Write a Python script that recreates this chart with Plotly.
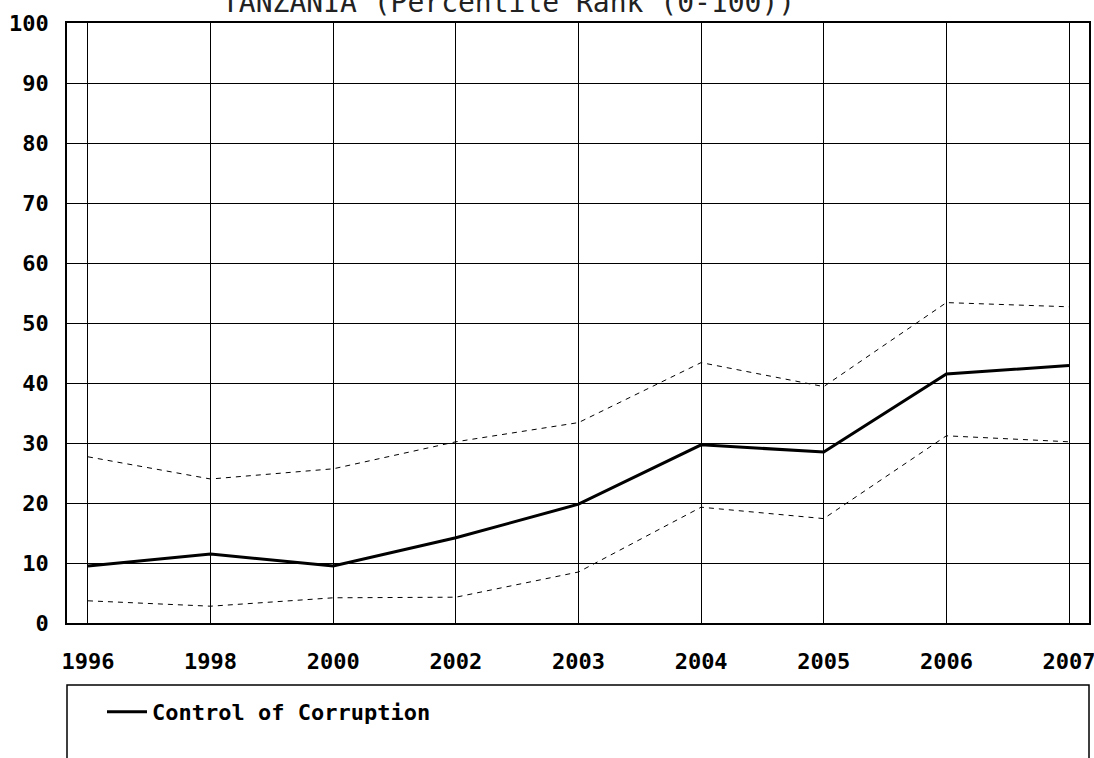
import plotly.graph_objects as go

years = ["1996", "1998", "2000", "2002", "2003", "2004", "2005", "2006", "2007"]
control_of_corruption = [9.5, 11.5, 9.5, 14.2, 19.8, 29.7, 28.5, 41.5, 42.9]
upper_bound = [27.7, 24.0, 25.7, 30.2, 33.4, 43.4, 39.4, 53.4, 52.7]
lower_bound = [3.7, 2.8, 4.2, 4.3, 8.5, 19.3, 17.4, 31.2, 30.2]
y_ticks = [0, 10, 20, 30, 40, 50, 60, 70, 80, 90, 100]
title_text = "TANZANIA (Percentile Rank (0-100))"

FONT = "DejaVu Sans Mono"

fig = go.Figure()
fig.add_trace(go.Scatter(x=years, y=upper_bound, mode="lines", showlegend=False,
                         line=dict(color="black", width=1, dash="5px,5px")))
fig.add_trace(go.Scatter(x=years, y=lower_bound, mode="lines", showlegend=False,
                         line=dict(color="black", width=1, dash="5px,5px")))
fig.add_trace(go.Scatter(x=years, y=control_of_corruption, mode="lines",
                         name="Control of Corruption",
                         line=dict(color="black", width=3)))

fig.update_layout(
    width=1094, height=758,
    margin=dict(l=67, r=5, t=23, b=135, autoexpand=False),
    paper_bgcolor="white", plot_bgcolor="white",
    font=dict(family=FONT, size=22, color="black"),
    xaxis=dict(type="category", categoryorder="array", categoryarray=years,
               range=[-0.171, 8.163], showgrid=True, gridcolor="black", gridwidth=1,
               showline=True, linecolor="black", linewidth=1.5, mirror=True,
               ticks="", ticklabelstandoff=18, zeroline=False, automargin=False,
               tickfont=dict(family=FONT, size=22, weight="bold")),
    yaxis=dict(range=[0, 100], tickvals=y_ticks, showgrid=True, gridcolor="black",
               gridwidth=1, showline=True, linecolor="black", linewidth=1.5,
               mirror=True, ticks="", ticklabelstandoff=12, zeroline=False,
               automargin=False,
               tickfont=dict(family=FONT, size=22, weight="bold")),
    showlegend=True,
    legend=dict(x=(102 - 67) / 1022, xanchor="left", xref="paper",
                y=(623 - 712) / 600, yanchor="middle", yref="paper",
                bgcolor="rgba(0,0,0,0)", borderwidth=0, itemwidth=40,
                font=dict(family=FONT, size=22, weight="bold")),
    shapes=[dict(type="rect", xref="paper", yref="paper",
                 x0=0, x1=1, y0=(623 - 685) / 600, y1=(623 - 800) / 600,
                 line=dict(color="black", width=1.5), fillcolor="rgba(0,0,0,0)",
                 layer="below")],
    annotations=[dict(text=title_text, xref="paper", yref="paper",
                      x=(508 - 67) / 1022, y=(623 - 21) / 600,
                      xanchor="center", yanchor="bottom", showarrow=False,
                      font=dict(family=FONT, size=28, color="#222"))],
)

fig.write_html("out.html", config={"displayModeBar": False},
               post_script="document.body.style.margin='0';document.body.style.overflow='hidden';")
